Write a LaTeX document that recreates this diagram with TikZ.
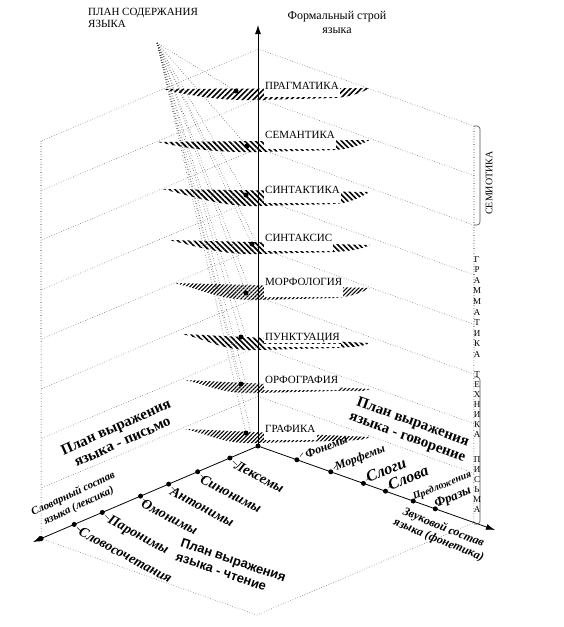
\documentclass[tikz,border=0pt]{standalone}
\usepackage{fontspec}
\setmainfont{Liberation Serif}
\setsansfont{Liberation Sans}
\usetikzlibrary{arrows.meta,calc,patterns.meta}

\begin{document}
\begin{tikzpicture}[x=1pt,y=-1pt,
    level/.style={black!55, dotted, line width=0.6pt},
    wall/.style={black, dotted, line width=0.6pt},
    fan/.style={black!85, dotted, line width=0.5pt},
    axis/.style={line width=0.8pt, -{Latex[length=9pt,width=6pt]}},
    dot/.style={circle, fill=black, inner sep=0pt, minimum size=5pt},
    lbl/.style={fill=white, inner sep=1pt, font=\fontsize{11}{13}\selectfont},
    stack/.style={align=center, inner sep=0pt, font=\fontsize{9}{10.6}\selectfont},
    brk/.style={black!70, line width=0.6pt, rounded corners=3pt},
    hatch/.style n args={3}{pattern={Lines[angle=#1,distance=#2,line width=#3]}},
    word/.style={inner sep=0pt, font=\fontsize{#1}{13}\selectfont\bfseries\itshape},
    word/.default=12,
    plan/.style={inner sep=0pt, align=center, font=\fontsize{15}{16}\selectfont\bfseries},
    plansans/.style={inner sep=0pt, align=left, font=\fontsize{13}{15}\selectfont\sffamily\bfseries}]
    \useasboundingbox (0,0) rectangle (564,627);

    % Levels of the two walls
    \foreach \k in {0,...,7} {
        \pgfmathsetmacro\yk{49+49.6*\k}
        \coordinate (z\k) at (258,\yk);
        \coordinate (l\k) at (41,\yk+92);
        \coordinate (r\k) at (474,\yk+77);
        \draw[level] (z\k) -- (l\k);
        \draw[level] (z\k) -- (r\k);
    }

    % Origin and floor
    \coordinate (O) at (258,446);
    \coordinate (L) at (33,542);
    \coordinate (R) at (495,530);
    \coordinate (lend) at ($(O)!0.964!(L)$);
    \coordinate (rend) at ($(O)!0.911!(R)$);
    \coordinate (far) at (257,615);
    \draw[wall] (l0) -- (lend);
    \draw[wall] (r0) -- (rend);
    \draw[level] (lend) -- (far) -- (rend);

    % Hatched bands with their labels
    \foreach \nm/\txt/\bl/\xl/\yt/\yb/\yr/\ang/\dst/\lw in {
        prag/ПРАГМАТИКА/89/162/89/100/88/45/3.8pt/1.6pt,
        sem/СЕМАНТИКА/138/158/142/152/140/-45/3.8pt/1.6pt,
        sntk/СИНТАКТИКА/193/162/189/206/192/-45/3.8pt/1.6pt,
        snts/СИНТАКСИС/241/169/240/254/245/-45/3.8pt/1.6pt,
        morf/МОРФОЛОГИЯ/285/174/283/300/288/45/2.8pt/1.1pt,
        punk/ПУНКТУАЦИЯ/340/182/334/350/343/-45/3.8pt/1.6pt,
        orf/ОРФОГРАФИЯ/383/185/380/393/389/45/2.8pt/1.1pt,
        graf/ГРАФИКА/432/185/429/443/437/45/2.8pt/1.1pt}
    {
        \fill[hatch={\ang}{\dst}{\lw}] (\xl,\yt) -- (370,\yr)
            .. controls (362,\yr+4) and (352,\yb-3) .. (334,\yb-2) -- (258,\yb)
            .. controls (222,\yb+1) and (\xl+30,\yt+7) .. (\xl,\yt) -- cycle;
        \node[lbl, anchor=base west] (t\nm) at (264,\bl) {\txt};
        \coordinate (c\nm) at (264,\yb-3);
        \fill[white] (t\nm.south west) rectangle (t\nm.east |- c\nm);
    }

    % Fan from the content plan
    \coordinate (apex) at (157,43);
    \foreach \nm/\px/\py in {prag/236/91, sem/247/146, sntk/246/195, snts/252/244,
                            morf/246/293, punk/241/337, orf/241/384, graf/246/433}
        \coordinate (d\nm) at (\px,\py);
    \foreach \nm in {prag,sem,sntk,snts,morf,punk,orf,graf}
        \draw[fan] (apex) -- (d\nm);
    \foreach \nm in {snts,morf,punk,orf,graf}
        \draw[fan] (apex) -- ([xshift=5pt]d\nm);

    % Axes
    \draw[axis] (O) -- (258,25);
    \draw[axis] (O) -- (L);
    \draw[axis] (O) -- (R);
    \node[dot] (dotO) at (O) {};
    \node[dot] (dotL) at (lend) {};
    \foreach \nm in {prag,sem,sntk,snts,morf,punk,orf,graf}
        \node[dot] (dot\nm) at (d\nm) {};

    % Vocabulary axis
    \foreach \i/\t/\dx/\txt in {1/0.125/8/Лексемы, 2/0.268/6/Синонимы, 3/0.397/5/Антонимы,
                               4/0.522/4/Омонимы, 5/0.692/9/Паронимы, 6/0.817/8/Словосочетания} {
        \node[dot] (lx\i) at ($(O)!\t!(L)$) {};
        \draw ([shift={(3,3)}]lx\i.center) -- ++(4,4);
        \node[word=14, rotate=-28, anchor=north west] (lw\i) at ($(lx\i)+(\dx,2)$) {\txt};
    }

    % Sound axis
    \foreach \i/\t/\sz/\dx/\txt in {1/0.164/12/10/Фонемы, 2/0.307/12/6/Морфемы, 3/0.445/16/5/Слоги,
                                   4/0.538/16/5/Слова, 5/0.655/10/1/Предложения, 6/0.748/13/1/Фразы} {
        \node[dot] (rx\i) at ($(O)!\t!(R)$) {};
        \draw ([shift={(3,-3)}]rx\i.center) -- ++(3,-4);
        \node[word=\sz, rotate=22, anchor=base west] (rw\i) at ($(rx\i)+(\dx,-1)$) {\txt};
    }

    % Titles
    \node[anchor=north west, align=left, inner sep=0pt, font=\fontsize{11}{12}\selectfont]
        (content) at (88,8.5) {ПЛАН СОДЕРЖАНИЯ\\ЯЗЫКА};
    \node[anchor=north, align=center, inner sep=0pt, font=\fontsize{12}{14}\selectfont]
        (form) at (337,11) {Формальный строй\\языка};
    \node[word=11, rotate=25, align=center] (lex) at (76,500) {Словарный состав\\языка (лексика)};
    \node[word=12, rotate=-22, align=center] (phon) at (441,534) {Звуковой состав\\языка (фонетика)};
    \node[plan, rotate=24] (write) at (119,434) {План выражения\\языка - письмо};
    \node[plan, rotate=-20] (speak) at (410,430) {План выражения\\языка - говорение};
    \node[plansans, rotate=-19] (read) at (231,567) {План выражения\\языка - чтение};

    % Right brackets
    \draw[brk] (r0) -- ++(6,0) -- (480,225) -- (474,225);
    \node[rotate=90, inner sep=0pt, font=\fontsize{10}{10}\selectfont] (semio) at (489,183) {СЕМИОТИКА};
    \node[stack, anchor=north] (gram) at (477,256) {Г\\Р\\А\\М\\М\\А\\Т\\И\\К\\А};
    \draw[brk] (474,377) -- (480,377) -- (480,524) -- (474,524);
    \node[stack, anchor=north, font=\fontsize{9}{10}\selectfont] (tech) at (477,371)
        {Т\\Е\\Х\\Н\\И\\К\\А\\[15pt]П\\И\\С\\Ь\\М\\А};
\end{tikzpicture}
\end{document}
